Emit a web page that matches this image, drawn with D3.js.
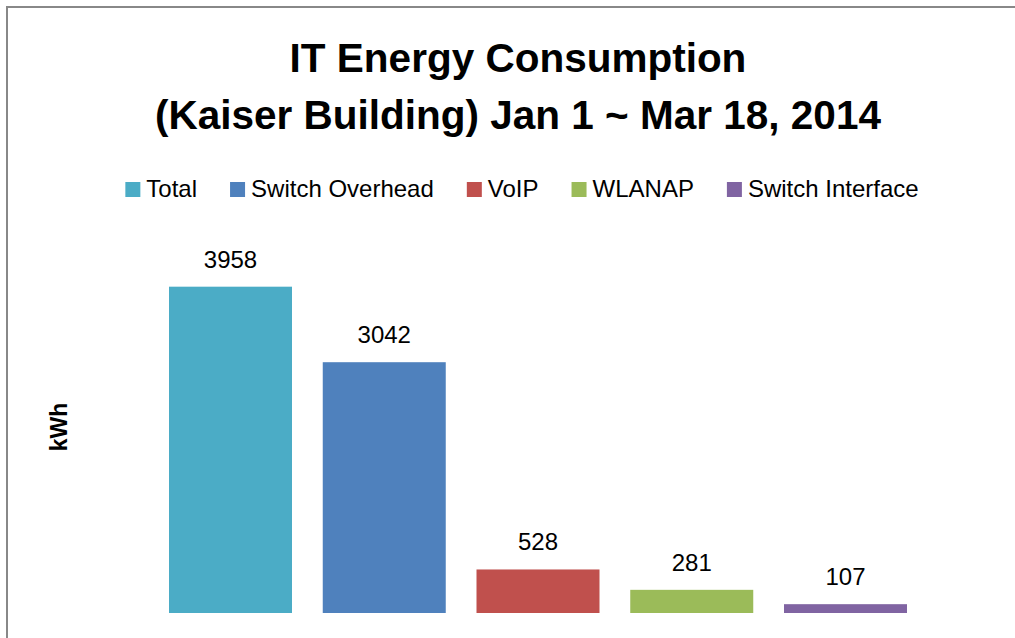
<!DOCTYPE html>
<html>
<head>
<meta charset="utf-8">
<script src="https://cdn.jsdelivr.net/npm/d3@7"></script>
<style>
  body { margin: 0; background: #fff; overflow: hidden; }
  svg { display: block; }
  text { font-family: "Liberation Sans", Arial, sans-serif; }
</style>
</head>
<body>
<div id="chart"></div>
<script>
// data
var categories = ["Total", "Switch Overhead", "VoIP", "WLANAP", "Switch Interface"];
var values = [3958, 3042, 528, 281, 107];
var colors = ["#4BACC6", "#4F81BD", "#C0504D", "#9BBB59", "#8064A2"];
var titleLines = ["IT Energy Consumption", "(Kaiser Building) Jan 1 ~ Mar 18, 2014"];
var yMax = 4500;

var svgWidth = 1015;
var svgHeight = 638;

var svg = d3.select("#chart")
    .append("svg")
    .attr("width", svgWidth)
    .attr("height", svgHeight);

// outer chart border (cropped at right/bottom like the original)
svg.append("path")
    .attr("d", "M7,640 V7 H1020")
    .attr("fill", "none")
    .attr("stroke", "#888")
    .attr("stroke-width", 2);

// plot area
var plot = { left: 169, right: 907, top: 242, bottom: 613 };

var x = d3.scaleBand()
    .domain(categories)
    .range([plot.left, plot.right])
    .paddingInner(0.2)
    .paddingOuter(0);

var y = d3.scaleLinear()
    .domain([0, yMax])
    .range([plot.bottom, plot.top]);

// title
svg.append("text")
    .attr("text-anchor", "middle")
    .style("font-size", "40.5px")
    .style("font-weight", "bold")
    .selectAll("tspan")
    .data(titleLines)
    .enter()
    .append("tspan")
    .attr("x", 518)
    .attr("y", (d, i) => 72 + i * 57)
    .text(d => d);

// legend
var legend = svg.append("g");
var items = legend.selectAll("g")
    .data(categories)
    .enter()
    .append("g");

items.append("rect")
    .attr("width", 15)
    .attr("height", 15)
    .attr("y", -15)
    .attr("fill", (d, i) => colors[i]);

items.append("text")
    .attr("x", 21)
    .attr("y", 0)
    .style("font-size", "24px")
    .attr("fill", "#000")
    .text(d => d);

var gap = 33;
var pos = 0;
items.each(function () {
    d3.select(this).attr("transform", `translate(${pos},197)`);
    var w = d3.select(this).select("text").node().getComputedTextLength();
    pos += 21 + w + gap;
});
pos -= gap;
legend.attr("transform", `translate(${522 - pos / 2},0)`);

// bars
svg.selectAll(".bar")
    .data(values)
    .enter()
    .append("rect")
    .attr("class", "bar")
    .attr("x", (d, i) => x(categories[i]))
    .attr("y", d => y(d))
    .attr("width", x.bandwidth())
    .attr("height", d => y(0) - y(d))
    .attr("fill", (d, i) => colors[i]);

// value labels
svg.selectAll(".val")
    .data(values)
    .enter()
    .append("text")
    .attr("class", "val")
    .attr("x", (d, i) => x(categories[i]) + x.bandwidth() / 2)
    .attr("y", d => y(d) - 19)
    .attr("text-anchor", "middle")
    .style("font-size", "24px")
    .text(d => d);

// y axis title
svg.append("text")
    .attr("transform", "translate(67,427) rotate(-90)")
    .attr("text-anchor", "middle")
    .style("font-size", "23px")
    .style("font-weight", "bold")
    .text("kWh");
</script>
</body>
</html>
